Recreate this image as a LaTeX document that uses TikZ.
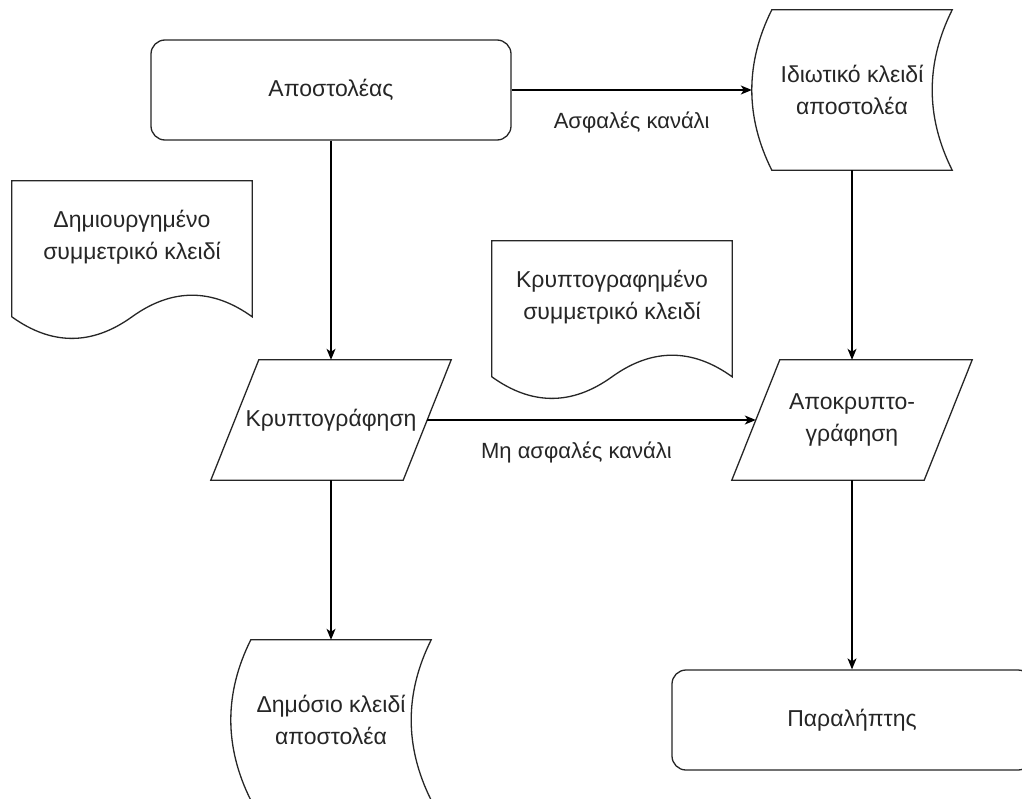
\documentclass[tikz,border=0pt]{standalone}
\usepackage{fontspec}
\setmainfont{Liberation Sans}
\usetikzlibrary{arrows.meta,calc}

% outline of a "stored data" box: convex left side, concave right side
\newcommand\storeddata[1]{%
  \draw[outline] ($(#1.north west)+(20pt,0pt)$) -- (#1.north east)
    .. controls ($(#1.north east)+(-26.67pt,-53.33pt)$) and ($(#1.south east)+(-26.67pt,53.33pt)$) .. (#1.south east)
    -- ($(#1.south west)+(20pt,0pt)$)
    .. controls ($(#1.south west)+(-6.67pt,53.33pt)$) and ($(#1.north west)+(-6.67pt,-53.33pt)$) .. cycle;}

% outline of a document sheet with a wavy lower edge (node covers the text area)
\newcommand\docsheet[1]{%
  \draw[outline] (#1.north west) -- (#1.north east) -- ($(#1.north east)+(0pt,-136pt)$)
    .. controls ($(#1.north east)+(-40pt,-107.2pt)$) and ($(#1.north)+(40pt,-107.2pt)$) .. ($(#1.north)+(0pt,-136pt)$)
    .. controls ($(#1.north)+(-40pt,-164.8pt)$) and ($(#1.north west)+(40pt,-164.8pt)$) .. ($(#1.north west)+(0pt,-136pt)$)
    -- cycle;}

% outline of a slanted process box (node covers the inner rectangle)
\newcommand\slantbox[1]{%
  \draw[outline] ($(#1.south west)+(-24pt,0pt)$) -- ($(#1.north west)+(24pt,0pt)$)
    -- ($(#1.north east)+(24pt,0pt)$) -- ($(#1.south east)+(-24pt,0pt)$) -- cycle;}

\begin{document}
\begin{tikzpicture}[x=1pt,y=-1pt,
  every node/.style={font=\fontsize{23}{32}\selectfont, align=center, inner sep=0pt, text=black!85},
  outline/.style={draw=black!85, line width=1.3pt},
  terminal/.style={outline, rounded corners=14pt, minimum width=360pt, minimum height=100pt},
  hidden/.style={draw=none},
  flow/.style={draw=black, line width=1.3pt, -{Stealth[length=11pt,width=9pt,inset=3pt]}},
  edgelabel/.style={yshift=-32pt, font=\fontsize{22}{30}\selectfont}
]
\fill[white] (0,0) rectangle (1022,798);
\useasboundingbox (0,0) rectangle (1022,798);

% sender's side
\node[terminal] (snd) at (331,90) {Αποστολέας};
\node[hidden, minimum width=200pt, minimum height=160pt] (priv) at (852,90) {Ιδιωτικό κλειδί\\αποστολέα};
\storeddata{priv}

\node[hidden, minimum width=240pt, minimum height=112pt] (gen) at (132,237) {Δημιουργημένο\\συμμετρικό κλειδί};
\docsheet{gen}
\node[hidden, minimum width=240pt, minimum height=112pt] (encsym) at (612,297) {Κρυπτογραφημένο\\συμμετρικό κλειδί};
\docsheet{encsym}

% processing steps
\node[hidden, minimum width=192pt, minimum height=120pt] (enc) at (331,420) {Κρυπτογράφηση};
\slantbox{enc}
\node[hidden, minimum width=192pt, minimum height=120pt] (dec) at (852,420) {Αποκρυπτο-\\γράφηση};
\slantbox{dec}

% outputs
\node[hidden, minimum width=200pt, minimum height=160pt] (pub) at (331,720) {Δημόσιο κλειδί\\αποστολέα};
\storeddata{pub}
\node[terminal] (rcv) at (852,720) {Παραλήπτης};

% connectors
\draw[flow] (snd.east) -- node[edgelabel, pos=0.5] {Ασφαλές κανάλι} (priv.west);
\draw[flow] (snd.south) -- (enc.north);
\draw[flow] (priv.south) -- (dec.north);
\draw[flow] (enc.east) -- node[edgelabel, pos=0.454] {Μη ασφαλές κανάλι} (dec.west);
\draw[flow] (enc.south) -- (pub.north);
\draw[flow] (dec.south) -- (rcv.north);
\end{tikzpicture}
\end{document}
